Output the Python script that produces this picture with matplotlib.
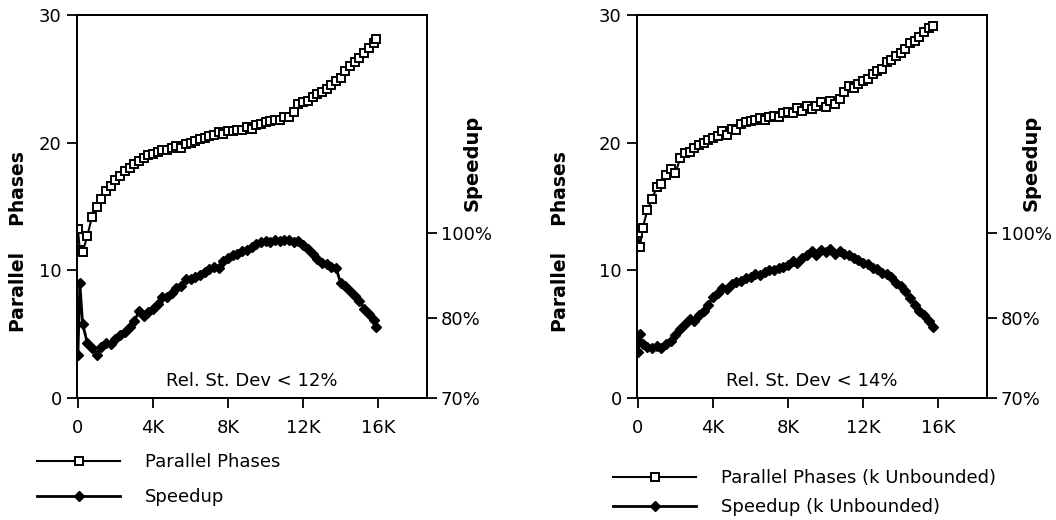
import matplotlib
matplotlib.use("Agg")
import matplotlib.pyplot as plt

plt.rcParams['font.family'] = ['DejaVu Sans']

# data (x in K, y read in "Parallel Phases" axis units for both series)
x_left = [0, 0.1, 0.25, 0.5, 0.75, 1.0, 1.25, 1.5, 1.75, 2.0, 2.25, 2.5, 2.75, 3.0, 3.25, 3.5, 3.75,
          4.0, 4.25, 4.5, 4.75, 5.0, 5.25, 5.5, 5.75, 6.0, 6.25, 6.5, 6.75, 7.0, 7.25, 7.5, 7.75,
          8.0, 8.25, 8.5, 8.75, 9.0, 9.25, 9.5, 9.75, 10.0, 10.25, 10.5, 10.75, 11.0, 11.25, 11.5, 11.75,
          12.0, 12.25, 12.5, 12.75, 13.0, 13.25, 13.5, 13.75, 14.0, 14.25, 14.5, 14.75, 15.0, 15.25,
          15.5, 15.75, 15.9]
phases_left = [13.2, 11.6, 11.4, 12.7, 14.2, 15.0, 15.6, 16.2, 16.6, 17.1, 17.4, 17.8, 18.0, 18.3, 18.6, 18.8, 19.0,
               19.1, 19.3, 19.4, 19.4, 19.6, 19.7, 19.6, 19.9, 20.0, 20.1, 20.3, 20.4, 20.5, 20.6, 20.8, 20.7,
               20.9, 20.9, 21.0, 21.0, 21.2, 21.1, 21.4, 21.5, 21.6, 21.7, 21.8, 21.8, 22.0, 22.0, 22.4, 23.0,
               23.2, 23.3, 23.6, 23.8, 24.0, 24.2, 24.5, 24.8, 25.1, 25.6, 26.0, 26.3, 26.6, 27.0,
               27.4, 27.8, 28.1]
speedup_left = [3.4, 9.0, 5.8, 4.3, 3.9, 3.4, 4.0, 4.3, 4.2, 4.6, 4.9, 5.2, 5.6, 6.0, 6.8, 6.4, 6.7,
                7.0, 7.4, 7.9, 7.9, 8.2, 8.6, 8.8, 9.3, 9.3, 9.5, 9.6, 9.9, 10.1, 10.3, 10.2, 10.7,
                11.0, 11.2, 11.3, 11.5, 11.6, 11.8, 12.1, 12.2, 12.3, 12.2, 12.4, 12.3, 12.4, 12.4, 12.2, 12.3,
                12.0, 11.7, 11.3, 10.9, 10.6, 10.5, 10.3, 10.2, 9.0, 8.8, 8.4, 8.0, 7.6, 7.0,
                6.6, 6.1, 5.6]

x_right = [0, 0.1, 0.25, 0.5, 0.75, 1.0, 1.25, 1.5, 1.75, 2.0, 2.25, 2.5, 2.75, 3.0, 3.25, 3.5, 3.75,
           4.0, 4.25, 4.5, 4.75, 5.0, 5.25, 5.5, 5.75, 6.0, 6.25, 6.5, 6.75, 7.0, 7.25, 7.5, 7.75,
           8.0, 8.25, 8.5, 8.75, 9.0, 9.25, 9.5, 9.75, 10.0, 10.25, 10.5, 10.75, 11.0, 11.25, 11.5, 11.75,
           12.0, 12.25, 12.5, 12.75, 13.0, 13.25, 13.5, 13.75, 14.0, 14.25, 14.5, 14.75, 15.0, 15.25,
           15.5, 15.7]
phases_right = [12.9, 11.8, 13.3, 14.7, 15.6, 16.5, 16.8, 17.5, 17.9, 17.6, 18.8, 19.2, 19.3, 19.6, 19.8, 20.0, 20.2,
                20.4, 20.5, 20.9, 20.6, 21.1, 21.0, 21.5, 21.6, 21.7, 21.8, 21.9, 21.8, 22.0, 22.1, 22.0, 22.3,
                22.4, 22.3, 22.7, 22.5, 22.9, 22.6, 22.9, 23.2, 22.8, 23.3, 23.0, 23.4, 24.0, 24.4, 24.3, 24.6,
                24.8, 25.0, 25.4, 25.6, 25.8, 26.3, 26.5, 26.8, 27.0, 27.3, 27.8, 28.0, 28.3, 28.7,
                29.0, 29.1]
speedup_right = [3.6, 5.0, 4.2, 4.0, 3.9, 4.1, 3.9, 4.2, 4.5, 4.9, 5.4, 5.8, 6.2, 6.0, 6.5, 6.8, 7.3,
                 7.9, 8.2, 8.6, 8.5, 8.9, 9.1, 9.2, 9.4, 9.5, 9.7, 9.6, 9.9, 10.0, 10.0, 10.2, 10.3,
                 10.4, 10.7, 10.6, 11.0, 11.2, 11.5, 11.2, 11.6, 11.4, 11.7, 11.3, 11.5, 11.3, 11.2, 11.0, 10.8,
                 10.6, 10.5, 10.2, 10.1, 9.8, 9.7, 9.5, 9.0, 8.8, 8.4, 7.8, 7.3, 6.8, 6.5,
                 6.0, 5.6]

x_ticks = [0, 4, 8, 12, 16]
x_labels = ['0', '4K', '8K', '12K', '16K']
y_ticks = [0, 10, 20, 30]
speed_tick_pos = [0, 6.3, 12.9]
speed_tick_labels = ['70%', '80%', '100%']

W, H = 1056, 520
fig = plt.figure(figsize=(W / 100, H / 100), dpi=100)

panels = [
    dict(left=77, x=x_left, ph=phases_left, sp=speedup_left, note='Rel. St. Dev < 12%',
         lab_ph='Parallel Phases', lab_sp='Speedup', ylab_x=19, sp_lab_x=472,
         leg_x=37, leg_y=453, leg_space=0.95),
    dict(left=637, x=x_right, ph=phases_right, sp=speedup_right, note='Rel. St. Dev < 14%',
         lab_ph='Parallel Phases (k Unbounded)', lab_sp='Speedup (k Unbounded)', ylab_x=561, sp_lab_x=1031,
         leg_x=613, leg_y=469, leg_space=0.6),
]

for p in panels:
    ax = fig.add_axes([p['left'] / W, 1 - 398 / H, 350 / W, 383 / H])
    ax.plot(p['x'], p['ph'], color='black', lw=1.5, marker='s', ms=6, mfc='white', mec='black', mew=1.4,
            label=p['lab_ph'])
    ax2 = ax.twinx()
    ax2.plot(p['x'], p['sp'], color='black', lw=2.0, marker='D', ms=5.5, mfc='black', mec='black',
             label=p['lab_sp'])
    for a in (ax, ax2):
        a.set_xlim(-0.05, 18.6)
        a.set_ylim(0, 30)
        for s in a.spines.values():
            s.set_linewidth(1.4)
    ax.set_xticks(x_ticks)
    ax.set_xticklabels(x_labels)
    ax.set_yticks(y_ticks)
    ax2.set_yticks(speed_tick_pos)
    ax2.set_yticklabels(speed_tick_labels)
    ax.tick_params(direction='out', length=7, width=1.3, labelsize=13, pad=4)
    ax.tick_params(axis='x', pad=8)
    ax2.tick_params(direction='out', length=7, width=1.3, labelsize=13, pad=3)

    ax.text(0.5, 0.02, p['note'], transform=ax.transAxes, ha='center', va='bottom', fontsize=13)

    fig.text(p['ylab_x'] / W, 1 - 242 / H, 'Parallel    Phases', rotation=90, ha='center', va='center',
             fontsize=13.5, fontweight='bold')
    fig.text(p['sp_lab_x'] / W, 1 - 163 / H, 'Speedup', rotation=90, ha='center', va='center',
             fontsize=14, fontweight='bold')

    h1, l1 = ax.get_legend_handles_labels()
    h2, l2 = ax2.get_legend_handles_labels()
    fig.legend(h1 + h2, l1 + l2, loc='upper left', bbox_to_anchor=(p['leg_x'] / W, 1 - p['leg_y'] / H),
               frameon=False, fontsize=13, handlelength=4.6, handletextpad=1.4, borderpad=0,
               borderaxespad=0, labelspacing=p['leg_space'], numpoints=1)

fig.savefig('out.png', dpi=100)
